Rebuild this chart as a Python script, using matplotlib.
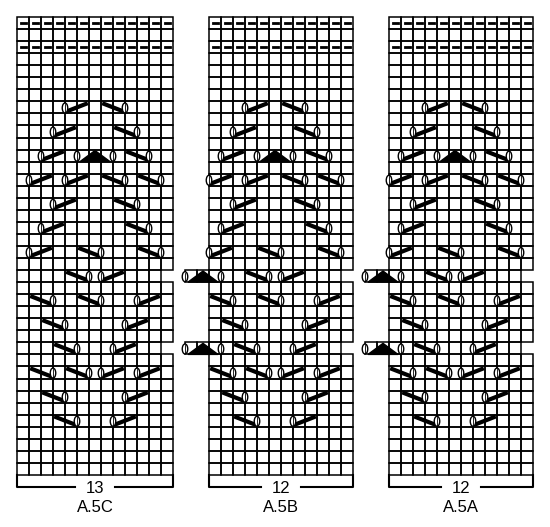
import matplotlib.pyplot as plt
from matplotlib.patches import Rectangle, Ellipse, Polygon

# chart names, stitch counts and left edge (px) of each chart
charts = ["A.5C", "A.5B", "A.5A"]
widths = [13, 12, 12]
lefts = [17, 209, 389]
n_rows = 38
purl_rows = [0, 2]
short_rows = [21, 27]   # rows shifted: C loses last cell, B/A gain two on the left

# A.5C symbols: (row, yarn-over column) ; L = yo then slant up right, R = slant down to yo
L_c = [(7, 4), (9, 3), (11, 2), (13, 1), (13, 4), (15, 3), (17, 2), (19, 1),
       (21, 7), (23, 10), (25, 9), (27, 8), (29, 7), (29, 10), (31, 9), (33, 8)]
R_c = [(7, 9), (9, 10), (11, 11), (13, 9), (13, 12), (15, 10), (17, 11), (19, 7),
       (19, 12), (21, 6), (23, 3), (23, 7), (25, 4), (27, 5), (29, 3), (29, 6),
       (31, 4), (33, 5)]
yo_c = [(11, 5), (11, 8)]
tri_c = [(11, 6.5)]
# extra symbols in the shifted rows of A.5B / A.5A
yo_extra = [(21, -2), (21, 1), (27, -2), (27, 1)]
tri_extra = [(21, -0.5), (27, -0.5)]

cw, ch, top = 12, 12.05, 17

fig = plt.figure(figsize=(5.5, 5.27), dpi=100)
ax = fig.add_axes([0, 0, 1, 1])
ax.set_xlim(0, 550)
ax.set_ylim(527, 0)
ax.axis("off")


def draw_chart(x0, ncol, shift, extra):
    X = lambda c: x0 + c * cw
    Y = lambda r: top + r * ch
    for r in range(n_rows):
        cols = range(ncol)
        if r in short_rows:
            cols = range(ncol - 1) if not extra else range(-2, ncol - 1)
        for c in cols:
            ax.add_patch(Rectangle((X(c), Y(r)), cw, ch, fill=False, ec="black", lw=1.1))
            if r in purl_rows:
                ax.plot([X(c) + 3.5, X(c) + 8.5], [Y(r) + ch / 2] * 2, color="black", lw=2)

    def yo(r, e):
        ax.add_patch(Ellipse((X(e), Y(r) + ch * 0.55), 5.5, 10, fc="white", ec="black", lw=1, zorder=4))
        ax.plot([X(e), X(e)], [Y(r) + 2.5, Y(r) + 10.5], color="black", lw=0.6, zorder=5)

    for r, e in L_c:
        e += shift
        ax.plot([X(e + 0.1), X(e + 1.9)], [Y(r) + ch * 0.85, Y(r) + ch * 0.15],
                color="black", lw=3, solid_capstyle="butt", zorder=3)
        yo(r, e)
    for r, e in R_c:
        e += shift
        ax.plot([X(e - 1.9), X(e - 0.1)], [Y(r) + ch * 0.15, Y(r) + ch * 0.85],
                color="black", lw=3, solid_capstyle="butt", zorder=3)
        yo(r, e)
    tris = [(r, c + shift) for r, c in tri_c]
    yos = [(r, c + shift) for r, c in yo_c]
    if extra:
        tris += tri_extra
        yos += yo_extra
    for r, e in yos:
        yo(r, e)
    for r, c in tris:
        ax.add_patch(Polygon([(X(c - 1.25), Y(r) + ch), (X(c + 1.25), Y(r) + ch),
                              (X(c), Y(r) + 1)], fc="black", ec="black", zorder=3))


for name, n, x0 in zip(charts, widths, lefts):
    shift = 0 if n == 13 else -1
    draw_chart(x0, n, shift, n == 12)
    x1 = x0 + n * cw
    xm = (x0 + x1) / 2
    yb = top + n_rows * ch
    ax.plot([x0, x0, xm - 20], [yb, yb + 12, yb + 12], color="black", lw=1.5)
    ax.plot([x1, x1, xm + 20], [yb, yb + 12, yb + 12], color="black", lw=1.5)
    ax.text(xm, yb + 14, str(n), ha="center", va="center", fontsize=12, family="Liberation Sans")
    ax.text(xm, yb + 33, name, ha="center", va="center", fontsize=12, family="Liberation Sans")

fig.savefig("out.png", dpi=100)
